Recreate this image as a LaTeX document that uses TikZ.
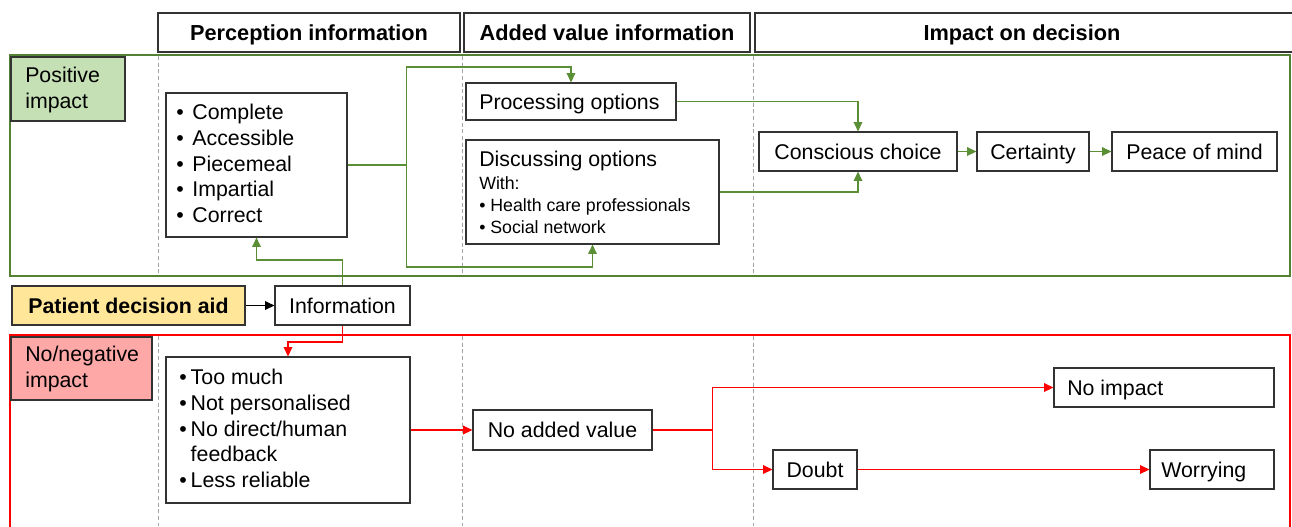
\documentclass[tikz,border=0pt]{standalone}
\usepackage{fontspec}
\setmainfont{Liberation Sans}
\usetikzlibrary{arrows.meta,fit}
\newcommand\myfs{\fontsize{16}{19.2}\selectfont}
\newcommand\mysm{\fontsize{13.3}{16.6}\selectfont}
\definecolor{gframe}{HTML}{548235}
\definecolor{gconn}{HTML}{5B8F35}
\definecolor{lgreen}{HTML}{C5E0B4}
\definecolor{lyellow}{HTML}{FFE699}
\definecolor{lpink}{HTML}{FFA8A8}
\definecolor{rline}{HTML}{FF0000}
\tikzset{
  bx/.style={draw=black!80, line width=0.9pt, fill=white, inner sep=0pt},
  txt/.style={inner sep=0pt, font=\myfs, align=left},
  sl/.style={inner sep=0pt, font=\myfs, text height=11.4pt, text depth=0pt},
  hdt/.style={sl, font=\bfseries\fontsize{16.3}{19.2}\selectfont},
  tip/.style={-{Triangle[length=7pt,width=6.5pt]}},
  gl/.style={draw=gconn, line width=1pt},
  ga/.style={gl, tip},
  rl/.style={draw=rline, line width=1pt},
  ra/.style={rl, tip},
  ka/.style={draw=black, line width=1pt, tip},
  dl/.style={draw=gray!70, line width=0.6pt, dash pattern=on 3pt off 2pt},
}
\begin{document}
\begin{tikzpicture}[x=0.75pt,y=-0.75pt]
\useasboundingbox (0,0) rectangle (1292,526);
% frames
\draw[draw=gframe, line width=2pt] (10,55) rectangle (1290,276);
\draw[draw=rline, line width=2pt] (10,335) rectangle (1290,530);
% dashed column separators
\foreach \xx in {158,462,753} {
  \draw[dl] (\xx,56) -- (\xx,275);
  \draw[dl] (\xx,336) -- (\xx,526);
}
% headers
\node[bx, fit={(158,13)(460,52)}] (hp) {};
\node[hdt] (hpt) at (hp.center) {Perception information};
\node[bx, fit={(464,13)(750,52)}] (ha) {};
\node[hdt] (hat) at (ha.center) {Added value information};
\node[bx, fit={(755,13)(1293,52)}] (hi) {};
\node[hdt] (hit) at (1022,32.5) {Impact on decision};
% row labels
\node[bx, fill=lgreen, fit={(11,57)(125,121)}] (pos) {};
\node[txt, anchor=west] (post) at (25,90) {Positive\\impact};
\node[bx, fill=lpink, fit={(11,337)(152,400)}] (neg) {};
\node[txt, anchor=west] (negt) at (25,369) {No/negative\\impact};
% positive row
\node[bx, fit={(166,93)(347,237)}] (gbul) {};
\node[txt, anchor=west] (gbult) at (176,166) {\begin{tabular}{@{}l@{\hspace{6.5pt}}l@{}}•&Complete\\•&Accessible\\•&Piecemeal\\•&Impartial\\•&Correct\end{tabular}};
\node[bx, fit={(466,83)(676,120)}] (proc) {};
\node[sl, anchor=west] (proct) at (479,101.5) {Processing options};
\node[bx, fit={(466,140)(719,244)}] (disc) {};
\node[txt, anchor=west, font=\mysm] (disct) at (479,196) {\begin{tabular}{@{}l@{}}{\myfs Discussing options}\\[0.5pt]With:\\• Health care professionals\\• Social network\end{tabular}};
\node[bx, fit={(759,132)(957,171)}] (cons) {};
\node[sl] (const) at (cons.center) {Conscious choice};
\node[bx, fit={(977,132)(1089,171)}] (cert) {};
\node[sl] (certt) at (cert.center) {Certainty};
\node[bx, fit={(1112,132)(1277,171)}] (peace) {};
\node[sl] (peacet) at (peace.center) {Peace of mind};
% middle
\node[bx, fill=lyellow, fit={(12,286)(245,325)}] (pda) {};
\node[sl, font=\bfseries\myfs] (pdat) at (pda.center) {Patient decision aid};
\node[bx, fit={(275,286)(410,325)}] (info) {};
\node[sl] (infot) at (info.center) {Information};
% negative row
\node[bx, fit={(166,357)(410,503)}] (rbul) {};
\node[txt, anchor=west] (rbult) at (179,431) {\begin{tabular}{@{}l@{\hspace{3pt}}l@{}}•&Too much\\•&Not personalised\\•&No direct/human\\&feedback\\•&Less reliable\end{tabular}};
\node[bx, fit={(473,410)(652,450)}] (noadd) {};
\node[sl] (noaddt) at (noadd.center) {No added value};
\node[bx, fit={(1054,368)(1274,407)}] (noimp) {};
\node[sl, anchor=west] (noimpt) at (1067,387.5) {No impact};
\node[bx, fit={(773,450)(857,489)}] (doubt) {};
\node[sl] (doubtt) at (doubt.center) {Doubt};
\node[bx, fit={(1150,450)(1274,489)}] (worry) {};
\node[sl, anchor=west] (worryt) at (1161,469.5) {Worrying};
% helper coordinates
\coordinate (gtop) at (0,67);
\coordinate (gbot) at (0,267);
\coordinate (gmid) at (0,260);
\coordinate (rmid) at (0,342);
% green connectors
\draw[gl] (gbul.east) -- ++(59,0) coordinate (j1);
\draw[ga] (j1) |- (proc.north |- gtop) -- (proc.north);
\draw[ga] (j1) |- (disc.south |- gbot) -- (disc.south);
\draw[ga] (info.north) |- (gbul.south |- gmid) -- (gbul.south);
\draw[ga] (proc.east) -| (cons.north);
\draw[ga] (disc.east) -| (cons.south);
\draw[ga] (cons) -- (cert);
\draw[ga] (cert) -- (peace);
% black connector
\draw[ka] (pda) -- (info);
% red connectors
\draw[ra] (info.south) |- (rbul.north |- rmid) -- (rbul.north);
\draw[ra] (rbul) -- (noadd);
\draw[rl] (noadd.east) -- ++(60,0) coordinate (j2);
\draw[ra] (j2) |- (noimp.west);
\draw[ra] (j2) |- (doubt.west);
\draw[ra] (doubt) -- (worry);
\end{tikzpicture}
\end{document}
